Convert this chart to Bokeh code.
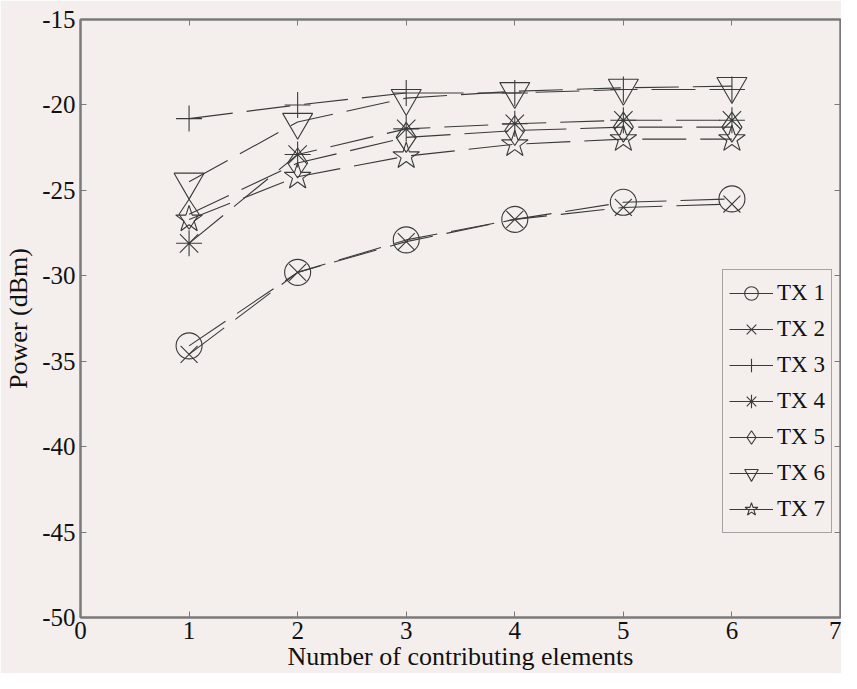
from bokeh.plotting import figure
from bokeh.models import Range1d, LinearAxis, Legend, LegendItem, FixedTicker
from bokeh.embed import file_html
from bokeh.resources import INLINE

x_vals = [1, 2, 3, 4, 5, 6]
tx1 = [-34.1, -29.8, -27.9, -26.7, -25.7, -25.5]
tx2 = [-34.6, -29.8, -28.0, -26.7, -26.0, -25.8]
tx3 = [-20.8, -20.0, -19.3, -19.3, -19.1, -19.1]
tx4 = [-28.1, -22.9, -21.4, -21.1, -20.9, -20.9]
tx5 = [-26.4, -23.4, -21.9, -21.5, -21.3, -21.3]
tx6 = [-24.5, -21.0, -19.6, -19.2, -19.0, -18.9]
tx7 = [-26.7, -24.2, -23.0, -22.3, -22.0, -22.0]
labels = ["TX 1", "TX 2", "TX 3", "TX 4", "TX 5", "TX 6", "TX 7"]
x_ticks = [0, 1, 2, 3, 4, 5, 6, 7]
y_ticks = [-50, -45, -40, -35, -30, -25, -20, -15]

series = [tx1, tx2, tx3, tx4, tx5, tx6, tx7]
markers = ["circle", "x", "cross", "asterisk", "diamond", "inverted_triangle", "star"]
msizes = [26, 24, 26, 26, 30, 30, 28]

BG = "#f4efed"
FONT = "Liberation Serif"
LC = "#3a3a3a"
AX = "#7a7a7a"

p = figure(width=841, height=673, output_backend="svg", toolbar_location=None,
           x_range=Range1d(0, 7), y_range=Range1d(-50, -15),
           min_border_left=80, min_border_right=1, min_border_top=19, min_border_bottom=55)
p.background_fill_color = BG
p.border_fill_color = BG
p.outline_line_color = AX
p.outline_line_width = 2
p.grid.visible = False

for ax in [p.xaxis[0], p.yaxis[0]]:
    ax.axis_line_color = AX
    ax.axis_line_width = 2
    ax.major_tick_line_color = AX
    ax.major_tick_in = 6
    ax.major_tick_out = 0
    ax.minor_tick_line_color = None
    ax.major_label_text_font = FONT
    ax.major_label_text_font_size = "25px"
    ax.major_label_text_color = "#111111"
    ax.axis_label_text_font = FONT
    ax.axis_label_text_font_size = "26px"
    ax.axis_label_text_font_style = "normal"
    ax.axis_label_text_color = "#111111"
p.xaxis[0].ticker = FixedTicker(ticks=x_ticks)
p.yaxis[0].ticker = FixedTicker(ticks=y_ticks)
p.xaxis[0].major_label_overrides = {float(t): str(t) for t in x_ticks}
p.yaxis[0].major_label_overrides = {float(t): str(t) for t in y_ticks}
p.xaxis[0].axis_label = "Number of contributing elements"
p.yaxis[0].axis_label = "Power (dBm)"
p.xaxis[0].major_label_standoff = 4
p.yaxis[0].major_label_standoff = 5
p.xaxis[0].axis_label_standoff = 0
p.yaxis[0].axis_label_standoff = 6

# mirror axes (box with ticks on all sides), no labels drawn
for loc, tk in [("right", y_ticks), ("above", x_ticks)]:
    a = LinearAxis(ticker=FixedTicker(ticks=tk))
    a.axis_line_color = AX
    a.axis_line_width = 2
    a.major_tick_line_color = AX
    a.major_tick_in = 6
    a.major_tick_out = 0
    a.minor_tick_line_color = None
    a.major_label_text_font_size = "1px"
    a.major_label_text_color = None
    a.major_label_standoff = 0
    p.add_layout(a, loc)

items = []
for ys, mk, ms, lab in zip(series, markers, msizes, labels):
    r1 = p.line(x_vals, ys, line_color=LC, line_width=1.1, line_dash="44 14")
    r2 = p.scatter(x_vals, ys, marker=mk, size=ms, line_color=LC, line_width=1.1,
                   fill_color=None)
    items.append(LegendItem(label=lab, renderers=[r1, r2]))

leg = Legend(items=items, location=(642, 84))
leg.label_text_font = FONT
leg.label_text_font_size = "23px"
leg.label_text_color = "#111111"
leg.glyph_width = 44
leg.glyph_height = 34
leg.label_height = 34
leg.spacing = 2
leg.padding = 6
leg.margin = 0
leg.label_standoff = 4
leg.border_line_color = "#555555"
leg.border_line_width = 1.5
leg.background_fill_color = BG
leg.background_fill_alpha = 1
p.add_layout(leg, "center")

open("out.html", "w").write(file_html(p, INLINE))
